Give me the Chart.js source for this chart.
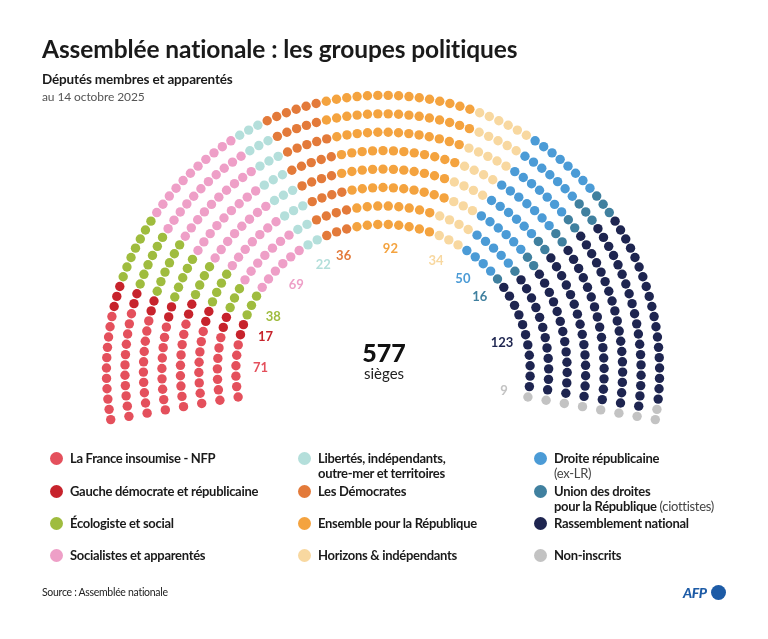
<!DOCTYPE html>
<html>
<head>
<meta charset="utf-8">
<script src="https://cdn.jsdelivr.net/npm/chart.js@4"></script>
<style>
  html, body { margin:0; padding:0; background:#fff; }
  body { width:768px; height:639px; position:relative; overflow:hidden; font-family:Lato, "Noto Sans", sans-serif; color:#1a1a1a; }
  #c { position:absolute; left:0; top:0; }
  .abs { position:absolute; white-space:nowrap; }
  #title { left:42px; top:34px; font-size:24.5px; font-weight:700; letter-spacing:-0.1px; }
  #sub { left:42px; top:71px; font-size:13.5px; font-weight:700; letter-spacing:-0.15px; }
  #date { left:42px; top:89px; font-size:12px; color:#555; letter-spacing:-0.1px; }
  .leg { position:absolute; font-size:13px; font-weight:700; line-height:15px; color:#1a1a1a; letter-spacing:-0.3px; }
  .leg .dot { position:absolute; left:-20px; top:1px; width:13px; height:13px; border-radius:50%; }
  .leg .light { font-weight:400; color:#444; }
  #src { left:42px; top:586px; font-size:10.5px; color:#222; letter-spacing:-0.3px; }
  #afp { left:683px; top:584px; font-size:14px; font-weight:900; font-style:italic; color:#1d5ba6; letter-spacing:-0.5px; }
  #afpdot { position:absolute; left:711px; top:585px; width:15px; height:15px; border-radius:50%; background:#1d5ba6; }
</style>
</head>
<body>
<canvas id="c" width="768" height="639"></canvas>
<div class="abs" id="title">Assemblée nationale : les groupes politiques</div>
<div class="abs" id="sub">Députés membres et apparentés</div>
<div class="abs" id="date">au 14 octobre 2025</div>
<div class="abs" id="src">Source : Assemblée nationale</div>
<div class="abs" id="afp">AFP</div>
<div id="afpdot"></div>
<script>
// ---- data ----
const groups = [
  'La France insoumise - NFP',
  'Gauche démocrate et républicaine',
  'Écologiste et social',
  'Socialistes et apparentés',
  'Libertés, indépendants,\noutre-mer et territoires',
  'Les Démocrates',
  'Ensemble pour la République',
  'Horizons & indépendants',
  'Droite républicaine\n(ex-LR)',
  'Union des droites\npour la République (ciottistes)',
  'Rassemblement national',
  'Non-inscrits'
];
const seats = [71, 17, 38, 69, 22, 36, 92, 34, 50, 16, 123, 9];
const colors = ['#e4505c', '#c7232c', '#9fbc3e', '#ee9fc7', '#b4dfdb', '#e37a3a', '#f4a33f', '#f8d8a0', '#4b9bd6', '#40809f', '#1e2550', '#c3c3c3'];
const totalLabel = ['577', 'sièges'];

// ---- hemicycle layout (derived from the seat counts) ----
const nRows = 8, rIn = 149, rOut = 280;
const angStart = 190.1, angEnd = -10.1;
const total = seats.reduce((a, b) => a + b, 0);
const radii = [];
for (let i = 0; i < nRows; i++) radii.push(rIn + (rOut - rIn) * i / (nRows - 1));
const rSum = radii.reduce((a, b) => a + b, 0);
let rowCounts = radii.map(r => Math.round(total * r / rSum));
let diff = total - rowCounts.reduce((a, b) => a + b, 0);
rowCounts[nRows - 1] += diff;

const all = [];
radii.forEach((r, i) => {
  const n = rowCounts[i];
  for (let k = 0; k < n; k++) {
    const a = angStart + (angEnd - angStart) * k / (n - 1);
    all.push({ a, r, row: i });
  }
});
all.sort((p, q) => (q.a - p.a) || (p.row - q.row));

const datasets = [];
const labelAngles = [];
let idx = 0;
seats.forEach((n, g) => {
  const pts = all.slice(idx, idx + n);
  idx += n;
  labelAngles.push((pts[0].a + pts[pts.length - 1].a) / 2);
  datasets.push({
    label: groups[g],
    data: pts.map(p => ({ x: p.r * Math.cos(p.a * Math.PI / 180), y: p.r * Math.sin(p.a * Math.PI / 180) })),
    backgroundColor: colors[g],
    borderWidth: 0,
    pointRadius: 4.7,
    pointHoverRadius: 4.7
  });
});

// ---- legend (HTML) ----
const legX = [70, 318, 554];
const legY = [451, 484, 516, 548];
groups.forEach((name, g) => {
  const col = Math.floor(g / 4), row = g % 4;
  const d = document.createElement('div');
  d.className = 'leg';
  d.style.left = legX[col] + 'px';
  d.style.top = legY[row] + 'px';
  const html = name.split('\n').map(s => s.replace(/(\([^)]*\))/g, '<span class="light">$1</span>')).join('<br>');
  d.innerHTML = '<span class="dot" style="background:' + colors[g] + '"></span>' + html;
  document.body.appendChild(d);
});

// ---- labels plugin ----
const labelPlugin = {
  id: 'hemiLabels',
  afterDatasetsDraw(chart) {
    const ctx = chart.ctx, xs = chart.scales.x, ys = chart.scales.y;
    ctx.save();
    ctx.textAlign = 'center';
    ctx.textBaseline = 'middle';
    ctx.font = '700 13px Lato, "Noto Sans", sans-serif';
    const rl = 124;
    seats.forEach((n, g) => {
      const a = labelAngles[g] * Math.PI / 180;
      ctx.fillStyle = colors[g];
      ctx.fillText(String(n), xs.getPixelForValue(rl * Math.cos(a)), ys.getPixelForValue(rl * Math.sin(a)));
    });
    ctx.fillStyle = '#111';
    ctx.font = '900 25px Lato, "Noto Sans", sans-serif';
    ctx.fillText(totalLabel[0], xs.getPixelForValue(1), ys.getPixelForValue(18));
    ctx.fillStyle = '#222';
    ctx.font = '400 15px Lato, "Noto Sans", sans-serif';
    ctx.fillText(totalLabel[1], xs.getPixelForValue(1), ys.getPixelForValue(-3));
    ctx.restore();
  }
};

new Chart(document.getElementById('c'), {
  type: 'scatter',
  data: { datasets },
  options: {
    responsive: false,
    animation: false,
    layout: { padding: 0 },
    events: [],
    plugins: { legend: { display: false }, tooltip: { enabled: false } },
    scales: {
      x: { type: 'linear', min: -383, max: 385, display: false },
      y: { type: 'linear', min: -267, max: 372, display: false }
    }
  },
  plugins: [labelPlugin]
});
</script>
</body>
</html>
